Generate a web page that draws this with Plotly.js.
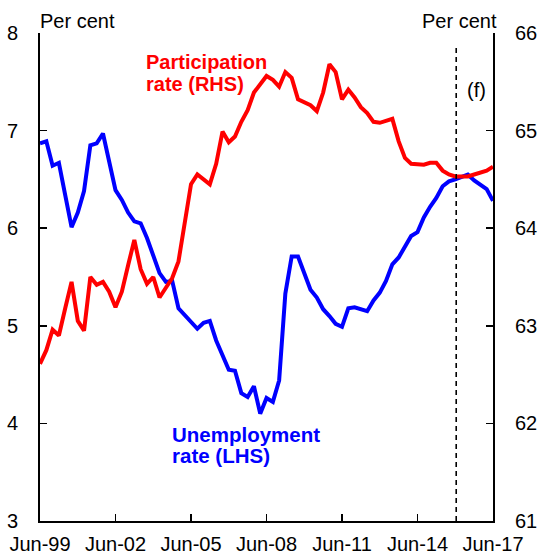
<!DOCTYPE html>
<html>
<head>
<meta charset="utf-8">
<script src="https://cdn.plot.ly/plotly-3.0.1.min.js"></script>
<style>html,body{margin:0;padding:0;background:#fff;}#chart{width:539px;height:555px;}</style>
</head>
<body>
<div id="chart"></div>
<script>
// Quarterly observations, Jun-99 to Jun-17
const firstQuarter = {year: 1999, month: 6};
const quarterCount = 73;

const unemploymentRate = [6.87,6.89,6.64,6.67,6.34,6.01,6.16,6.38,6.85,6.87,
  6.97,6.67,6.39,6.29,6.16,6.07,6.05,5.90,5.71,5.54,
  5.45,5.46,5.18,5.11,5.03,4.97,5.03,5.05,4.85,4.69,
  4.55,4.54,4.31,4.27,4.38,4.10,4.26,4.22,4.44,5.33,
  5.71,5.71,5.55,5.37,5.29,5.17,5.10,5.02,4.99,5.18,
  5.19,5.17,5.15,5.26,5.34,5.46,5.63,5.70,5.82,5.92,
  5.96,6.11,6.22,6.31,6.43,6.48,6.50,6.52,6.55,6.49,
  6.44,6.40,6.28];

const participationRate = [62.61,62.75,62.96,62.90,63.18,63.45,63.05,62.95,63.50,63.42,
  63.45,63.35,63.19,63.35,63.62,63.88,63.58,63.43,63.50,63.29,
  63.39,63.49,63.66,64.03,64.45,64.55,64.50,64.45,64.66,64.99,
  64.88,64.94,65.09,65.21,65.39,65.47,65.56,65.52,65.45,65.60,
  65.54,65.32,65.29,65.26,65.20,65.39,65.68,65.60,65.32,65.42,
  65.34,65.24,65.18,65.09,65.08,65.10,65.12,64.89,64.72,64.66,
  64.66,64.65,64.67,64.67,64.59,64.55,64.53,64.53,64.53,64.55,
  64.57,64.59,64.63];

const tickDates = ['1999-06-01','2002-06-01','2005-06-01','2008-06-01','2011-06-01','2014-06-01','2017-06-01'];
const tickLabels = ['Jun-99','Jun-02','Jun-05','Jun-08','Jun-11','Jun-14','Jun-17'];
const forecastStart = '2015-12-15';

const quarterDates = [];
for (let i = 0; i < quarterCount; i++) {
  const m = firstQuarter.month + 3 * i;
  const y = firstQuarter.year + Math.floor((m - 1) / 12);
  const mm = ((m - 1) % 12) + 1;
  quarterDates.push(y + '-' + String(mm).padStart(2, '0') + '-01');
}

const FONT = 'Arial, "Liberation Sans", sans-serif';

const traces = [
  {x: quarterDates, y: unemploymentRate, type: 'scatter', mode: 'lines',
   line: {color: '#0000FF', width: 4}, yaxis: 'y', hoverinfo: 'skip'},
  {x: quarterDates, y: participationRate, type: 'scatter', mode: 'lines',
   line: {color: '#FF0000', width: 4}, yaxis: 'y2', hoverinfo: 'skip'}
];

// pixel helpers for annotations (plot area: x 40..493, y 33..521)
const px = v => (v - 40) / 453;
const py = v => (521 - v) / 488;

function ann(text, x, y, opts) {
  return Object.assign({xref: 'paper', yref: 'paper', x: px(x), y: py(y), text: text,
    showarrow: false, xanchor: 'left', yanchor: 'middle',
    font: {family: FONT, size: 20, color: '#000'}}, opts || {});
}

const layout = {
  width: 539, height: 555,
  margin: {l: 40, r: 46, t: 33, b: 34, pad: 0},
  paper_bgcolor: '#fff', plot_bgcolor: '#fff',
  showlegend: false,
  font: {family: FONT, size: 20, color: '#000'},
  xaxis: {
    type: 'date', range: ['1999-06-01', '2017-06-01'],
    tickmode: 'array', tickvals: tickDates, ticktext: tickLabels,
    ticks: 'inside', ticklen: 7, tickwidth: 1.5, tickcolor: '#000',
    showline: true, linewidth: 2, linecolor: '#000',
    showgrid: false, zeroline: false,
    tickfont: {family: FONT, size: 20, color: '#000'},
    ticklabelstandoff: 4
  },
  yaxis: {
    range: [3, 8], tickvals: [3,4,5,6,7,8],
    ticks: 'inside', ticklen: 7, tickwidth: 1.5, tickcolor: '#000',
    showline: true, linewidth: 2, linecolor: '#000',
    showgrid: false, zeroline: false,
    tickfont: {family: FONT, size: 20, color: '#000'},
    ticklabelstandoff: 16
  },
  yaxis2: {
    range: [61, 66], tickvals: [61,62,63,64,65,66],
    overlaying: 'y', side: 'right',
    ticks: 'inside', ticklen: 7, tickwidth: 1.5, tickcolor: '#000',
    showline: true, linewidth: 2, linecolor: '#000',
    showgrid: false, zeroline: false,
    tickfont: {family: FONT, size: 20, color: '#000'},
    ticklabelstandoff: 16
  },
  shapes: [{
    type: 'line', xref: 'x', yref: 'paper', x0: forecastStart, x1: forecastStart,
    y0: 0, y1: py(45), line: {color: '#000', width: 1.6, dash: '5px,4px'}
  }],
  annotations: [
    ann('Per cent', 38, 21.5),
    ann('Per cent', 499, 21.5, {xanchor: 'right'}),
    ann('(f)', 476, 90, {xanchor: 'center'}),
    ann('<b>Participation</b>', 144, 61.5, {font: {family: FONT, size: 20, color: '#FF0000'}}),
    ann('<b>rate (RHS)</b>', 144, 83.5, {font: {family: FONT, size: 20, color: '#FF0000'}}),
    ann('<b>Unemployment</b>', 170, 434, {font: {family: FONT, size: 20.5, color: '#0000FF'}}),
    ann('<b>rate (LHS)</b>', 170, 455.5, {font: {family: FONT, size: 20.5, color: '#0000FF'}})
  ]
};

Plotly.newPlot('chart', traces, layout, {staticPlot: true, displayModeBar: false});
</script>
</body>
</html>
